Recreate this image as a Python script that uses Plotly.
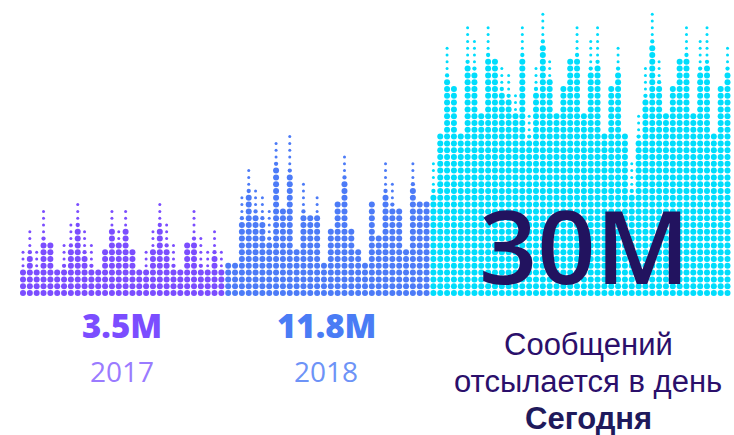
import plotly.graph_objects as go

# ---- data ----
segments = ["2017", "2018", "today"]
year_labels = ["2017", "2018"]
total_labels = ["3.5M", "11.8M", "30M"]
caption_lines = ["Сообщений", "отсылается в день", "<b>Сегодня</b>"]

# column heights (total dots) and body heights (big dots) per column
h2017 = [7, 10, 7, 13, 8, 4, 8, 11, 14, 10, 8, 4, 7, 13, 10, 13, 7, 4, 7, 10, 14, 11, 8, 4, 8, 13, 9, 7, 10, 7]
b2017 = [4, 6, 4, 8, 8, 4, 4, 7, 10, 6, 4, 4, 7, 10, 8, 10, 7, 4, 4, 7, 10, 7, 4, 4, 8, 8, 4, 4, 6, 4]

h2018 = [5, 5, 15, 19, 16, 15, 13, 23, 13, 24, 7, 17, 12, 15, 5, 10, 14, 21, 10, 7, 5, 14, 9, 20, 17, 13, 7, 20, 14, 14]
b2018 = [5, 5, 11, 15, 12, 11, 8, 19, 13, 18, 7, 12, 12, 12, 5, 10, 14, 17, 10, 7, 5, 14, 9, 15, 13, 13, 7, 16, 14, 14]

htoday = [20, 24, 37, 31, 24, 40, 38, 27, 40, 35, 34, 33, 30, 40, 27, 34, 42, 35, 27, 31, 35, 40,
          27, 38, 40, 24, 31, 37, 24, 20, 27, 34, 42, 35, 27, 31, 35, 40, 27, 38, 40, 24, 31, 37]
btoday = [15, 24, 32, 31, 24, 34, 33, 27, 35, 35, 30, 29, 27, 35, 23, 30, 37, 32, 27, 31, 35, 35,
          27, 33, 34, 24, 31, 33, 24, 15, 23, 29, 37, 31, 27, 31, 35, 35, 27, 33, 34, 24, 31, 33]

colors = ["#7B4DFF", "#4C7BF7", "#00DDFC"]
label_colors = ["#7B4DFF", "#4A7CF5"]
year_colors = ["#9A7BFF", "#6D93F7"]

BIG, MED, SMALL = 6.0, 4.3, 3.0

W, H = 734, 435
X0, DX = 23.0, 6.84   # pixel position of first column and spacing
Y0, DY = 293.0, 6.8   # pixel position of bottom row and spacing

fig = go.Figure()

start = 0
for seg, hs, bs, col in zip(segments, [h2017, h2018, htoday], [b2017, b2018, btoday], colors):
    xs, ys, ss = [], [], []
    for k, (h, b) in enumerate(zip(hs, bs)):
        for r in range(h):
            xs.append(start + k)
            ys.append(r)
            if r < b:
                ss.append(BIG)
            elif r == b and h - b >= 4:
                ss.append(MED)
            else:
                ss.append(SMALL)
    fig.add_trace(go.Scatter(
        x=xs, y=ys, mode="markers", name=seg, hoverinfo="skip",
        marker=dict(size=ss, color=col, opacity=1, line=dict(width=0)),
    ))
    start += len(hs)

def px_to_x(px):
    return (px - X0) / DX

def py_to_y(py):
    return (Y0 - py) / DY

# year labels
centers = [122, 326]
for cx, tot, yr, lc, yc in zip(centers, total_labels[:2], year_labels, label_colors, year_colors):
    fig.add_annotation(x=cx / W, y=1 - 325 / H, xref="paper", yref="paper", text=tot,
                       showarrow=False, xanchor="center", yanchor="middle",
                       font=dict(family="Open Sans", size=33, color=lc, weight=800))
    fig.add_annotation(x=cx / W, y=1 - 371 / H, xref="paper", yref="paper", text=yr,
                       showarrow=False, xanchor="center", yanchor="middle",
                       font=dict(family="Open Sans", size=28, color=yc))

fig.add_annotation(x=584 / W, y=1 - 244 / H, xref="paper", yref="paper", text=total_labels[2],
                   showarrow=False, xanchor="center", yanchor="middle",
                   font=dict(family="Open Sans", size=102, color="#22135F", weight=600))

for line, cy, c in zip(caption_lines, [344, 381, 418], ["#2B0F6B", "#2B0F6B", "#1F1A5C"]):
    fig.add_annotation(x=588 / W, y=1 - cy / H, xref="paper", yref="paper", text=line,
                       showarrow=False, xanchor="center", yanchor="middle",
                       font=dict(family="Liberation Sans", size=31, color=c))

fig.update_layout(
    width=W, height=H, margin=dict(l=0, r=0, t=0, b=0),
    paper_bgcolor="white", plot_bgcolor="white", showlegend=False,
    xaxis=dict(range=[px_to_x(0), px_to_x(W)], visible=False, fixedrange=True),
    yaxis=dict(range=[py_to_y(H), py_to_y(0)], visible=False, fixedrange=True),
)

fig.write_html("out.html", config={"displayModeBar": False},
               post_script="document.body.style.margin='0';document.body.style.overflow='hidden';")
